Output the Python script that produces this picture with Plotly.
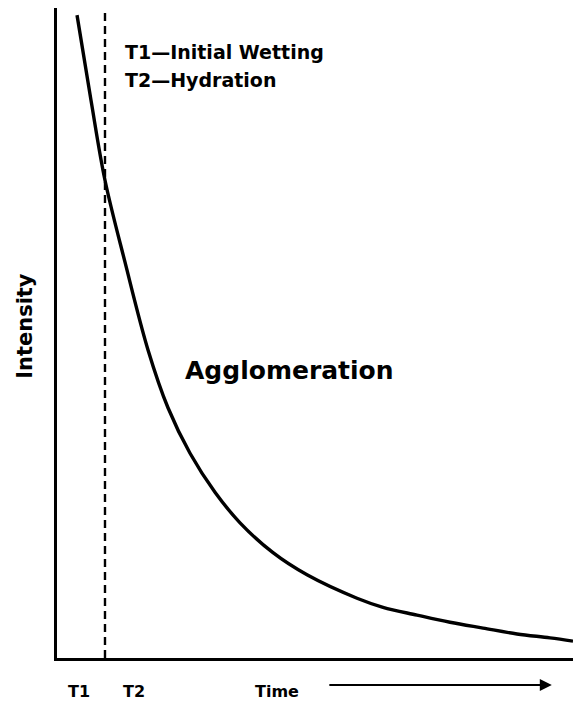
import plotly.graph_objects as go

# Curve data (arbitrary units: time 0-100, intensity 0-100)
time_vals = [3.88, 6.59, 9.30, 13.18, 17.64, 21.51, 25.78, 30.62, 35.47, 41.86, 48.45,
             58.14, 63.18, 69.77, 76.16, 82.56, 89.15, 95.54, 100.0]
intensity_vals = [98.9, 85.8, 73.5, 60.9, 47.4, 38.5, 31.5, 25.5, 20.8, 16.2, 12.8,
                  9.2, 7.8, 6.6, 5.5, 4.6, 3.7, 3.1, 2.6]

t2_time = 9.3
legend_lines = ["T1\u2014Initial Wetting", "T2\u2014Hydration"]
region_label = "Agglomeration"
x_labels = ["T1", "T2", "Time"]
x_label_pos = [4.26, 14.9, 42.6]
y_label = "Intensity"

FONT = "DejaVu Sans"

fig = go.Figure()
fig.add_trace(go.Scatter(x=[t2_time, t2_time], y=[0, 100], mode="lines",
                         line=dict(color="black", width=2.4, dash="8px,5px"),
                         hoverinfo="skip", showlegend=False))
fig.add_trace(go.Scatter(x=time_vals, y=intensity_vals, mode="lines",
                         line=dict(color="black", width=3.4, shape="spline"),
                         showlegend=False))

ann = []
ann.append(dict(x=12.8, y=93.2, xref="x", yref="y", text="<b>%s</b>" % legend_lines[0],
                showarrow=False, xanchor="left", yanchor="middle",
                font=dict(family=FONT, size=19, color="black")))
ann.append(dict(x=12.8, y=88.9, xref="x", yref="y", text="<b>%s</b>" % legend_lines[1],
                showarrow=False, xanchor="left", yanchor="middle",
                font=dict(family=FONT, size=19, color="black")))
ann.append(dict(x=24.4, y=44.2, xref="x", yref="y", text="<b>%s</b>" % region_label,
                showarrow=False, xanchor="left", yanchor="middle",
                font=dict(family=FONT, size=25, color="black")))
ann.append(dict(x=-0.062, y=0.511, xref="paper", yref="paper", text="<b>%s</b>" % y_label,
                showarrow=False, textangle=-90, xanchor="center", yanchor="middle",
                font=dict(family=FONT, size=21, color="black")))
for lab, xp in zip(x_labels, x_label_pos):
    ann.append(dict(x=xp, y=-0.0508, xref="x", yref="paper", text="<b>%s</b>" % lab,
                    showarrow=False, xanchor="center", yanchor="middle",
                    font=dict(family=FONT, size=16, color="black")))
ann.append(dict(x=95.9, y=-0.0415, xref="x", yref="paper", ax=-224, ay=0,
                text="", showarrow=True, arrowhead=2, arrowsize=1.2, arrowwidth=2,
                arrowcolor="black"))

fig.update_layout(
    width=579, height=702,
    margin=dict(l=57, r=6, t=8, b=44),
    plot_bgcolor="white", paper_bgcolor="white",
    annotations=ann,
    xaxis=dict(range=[0, 100], showgrid=False, zeroline=False, showticklabels=False,
               ticks="", showline=True, linecolor="black", linewidth=3),
    yaxis=dict(range=[0, 100], showgrid=False, zeroline=False, showticklabels=False,
               ticks="", showline=True, linecolor="black", linewidth=3),
)

fig.write_html("out.html", config={"displayModeBar": False},
               post_script="document.body.style.margin='0px';document.body.style.overflow='hidden';")
